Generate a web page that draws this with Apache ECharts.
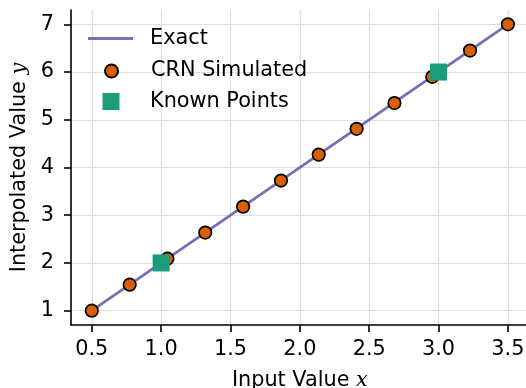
<!DOCTYPE html>
<html>
<head>
<meta charset="utf-8">
<script src="https://cdn.jsdelivr.net/npm/echarts@6/dist/echarts.min.js"></script>
<style>html,body{margin:0;padding:0;background:#fff;}#c{width:526px;height:388px;}</style>
</head>
<body>
<div id="c"></div>
<script>
const xTicks = [0.5, 1.0, 1.5, 2.0, 2.5, 3.0, 3.5];
const yTicks = [1, 2, 3, 4, 5, 6, 7];
const exactX = [0.5, 3.5];
const exactY = [1, 7];
const crnX = [0.5, 0.773, 1.045, 1.318, 1.591, 1.864, 2.136, 2.409, 2.682, 2.955, 3.227, 3.5];
const crnY = [1.0, 1.545, 2.09, 2.636, 3.18, 3.727, 4.27, 4.81, 5.35, 5.9, 6.45, 7.0];
const knownX = [1.0, 3.0];
const knownY = [2.0, 6.0];

const FONT = 'DejaVu Sans';
const FS = 20.8;
const chart = echarts.init(document.getElementById('c'), null, {renderer: 'canvas'});
const zip = (a, b) => a.map((v, i) => [v, b[i]]);
const axisCommon = {
  axisLine: {show: true, onZero: false, lineStyle: {color: '#000', width: 1.6}},
  axisTick: {show: true, length: 7, lineStyle: {color: '#000', width: 1.6}},
  splitLine: {show: true, lineStyle: {color: '#dedede', width: 1.2}},
  nameTextStyle: {fontFamily: FONT, fontSize: FS, color: '#000',
    rich: {i: {fontFamily: 'DejaVu Serif', fontStyle: 'italic', fontSize: FS, color: '#000'}}}
};
chart.setOption({
  animation: false,
  backgroundColor: '#fff',
  grid: {left: 71, top: 10, width: 457.7, height: 315, containLabel: false, outerBoundsMode: 'none'},
  xAxis: Object.assign({}, axisCommon, {
    type: 'value', min: 0.35, max: 3.65,
    name: 'Input Value {i|x}', nameLocation: 'middle', nameGap: 45,
    axisTick: Object.assign({}, axisCommon.axisTick, {customValues: xTicks}),
    axisLabel: {customValues: xTicks, margin: 14, fontFamily: FONT, fontSize: FS, color: '#000',
      formatter: v => v.toFixed(1)}
  }),
  yAxis: Object.assign({}, axisCommon, {
    type: 'value', min: 0.7, max: 7.3,
    name: 'Interpolated Value {i|y}', nameLocation: 'middle', nameGap: 38,
    axisTick: Object.assign({}, axisCommon.axisTick, {customValues: yTicks}),
    axisLabel: {customValues: yTicks, margin: 17, fontFamily: FONT, fontSize: FS, color: '#000',
      formatter: v => String(Math.round(v))}
  }),
  legend: [
    {data: [{name: 'Exact', icon: 'rect'}], left: 88, top: 28, padding: 0, itemWidth: 45, itemHeight: 2.8,
      itemStyle: {color: '#7570b3', borderWidth: 0},
      textStyle: {fontFamily: FONT, fontSize: FS, color: '#000', padding: [0, 0, 0, 12]}},
    {data: ['CRN Simulated'], left: 104, top: 60.5, padding: 0, itemWidth: 13, itemHeight: 13,
      textStyle: {fontFamily: FONT, fontSize: FS, color: '#000', padding: [0, 0, 0, 28]}},
    {data: ['Known Points'], left: 102.5, top: 91, padding: 0, itemWidth: 17, itemHeight: 17,
      textStyle: {fontFamily: FONT, fontSize: FS, color: '#000', padding: [0, 0, 0, 25.5]}}
  ],
  series: [
    {name: 'Exact', type: 'line', data: zip(exactX, exactY), symbol: 'none',
      lineStyle: {color: '#7570b3', width: 2.8}, itemStyle: {color: '#7570b3'}, z: 2},
    {name: 'CRN Simulated', type: 'scatter', data: zip(crnX, crnY), symbol: 'circle', symbolSize: 12.5,
      itemStyle: {color: '#d95f02', borderColor: '#000', borderWidth: 1.7, opacity: 1}, z: 3},
    {name: 'Known Points', type: 'scatter', data: zip(knownX, knownY), symbol: 'rect', symbolSize: 17,
      itemStyle: {color: '#1b9e77', opacity: 1}, z: 4}
  ]
});
</script>
</body>
</html>
